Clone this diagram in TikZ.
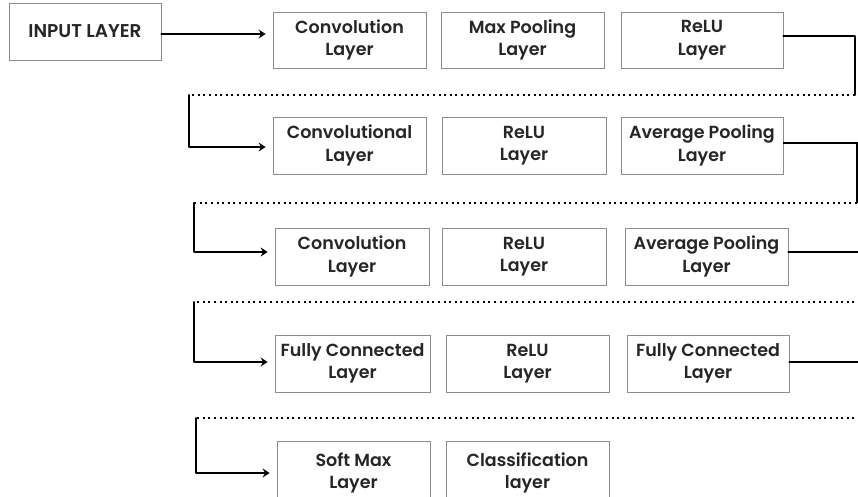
\documentclass[tikz,border=0pt]{standalone}
\usepackage{fontspec}
\setmainfont{Poppins}[BoldFont={Poppins SemiBold}]
\usetikzlibrary{arrows.meta,calc}
\begin{document}
\begin{tikzpicture}[x=1pt,y=-1pt,
  layer/.style={draw=black!45, line width=0.8pt, fill=white, rectangle, align=center,
    inner sep=0pt, font=\fontsize{17.5}{22.5}\selectfont\bfseries, text=black!85},
  conn/.style={line width=2pt, black, line cap=round, line join=round},
  thinconn/.style={line width=1.2pt, black},
  dotline/.style={line width=2pt, black, dash pattern=on 2pt off 3.6pt},
  arr/.style={conn, -{Stealth[length=7pt,width=9pt,inset=2.5pt]}, shorten >=7pt}]
\useasboundingbox (0,0) rectangle (858,497);
\clip (0,0) rectangle (858,497);
% row 0
\node[layer, minimum width=152, minimum height=57, font=\fontsize{18.5}{22}\selectfont\bfseries] (inp) at (85,31.5) {INPUT LAYER};
% row 1
\node[layer, minimum width=153, minimum height=56] (conv1) at (349.5,40) {Convolution\\Layer};
\node[layer, minimum width=163, minimum height=56] (max1) at (522.5,40) {Max Pooling\\Layer};
\node[layer, minimum width=162, minimum height=56] (relu1) at (702,40) {ReLU\\Layer};
% row 2
\node[layer, minimum width=153, minimum height=57] (conv2) at (349.5,145.5) {Convolutional\\Layer};
\node[layer, minimum width=164, minimum height=57] (relu2) at (524,145.5) {ReLU\\Layer};
\node[layer, minimum width=162, minimum height=57] (avg2) at (702,145.5) {Average Pooling\\Layer};
% row 3
\node[layer, minimum width=154, minimum height=57] (conv3) at (352,256.5) {Convolution\\Layer};
\node[layer, minimum width=164, minimum height=57] (relu3) at (524,256.5) {ReLU\\Layer};
\node[layer, minimum width=163, minimum height=57] (avg3) at (706.5,256.5) {Average Pooling\\Layer};
% row 4
\node[layer, minimum width=155, minimum height=57] (fc4) at (352.5,363.5) {Fully Connected\\Layer};
\node[layer, minimum width=163, minimum height=57] (relu4) at (527.5,363.5) {ReLU\\Layer};
\node[layer, minimum width=162, minimum height=57] (fc4b) at (708,363.5) {Fully Connected\\Layer};
% row 5
\node[layer, minimum width=153, minimum height=64] (soft5) at (353.5,473) {Soft Max\\Layer};
\node[layer, minimum width=163, minimum height=64] (class5) at (527.5,473) {\raisebox{4pt}{\begin{tabular}{@{}c@{}}Classification\\layer\end{tabular}}};
% coordinates for the wrap-around connectors
\coordinate (r1) at (855,95);  \coordinate (l1) at (189,95);
\coordinate (r2) at (857,203); \coordinate (l2) at (194,203);
\coordinate (r3) at (860,302); \coordinate (l3) at (194,302);
\coordinate (r4) at (860,418); \coordinate (l4) at (196,418);
% connectors
\draw[arr] ([yshift=-2.5pt]inp.east) -- ([yshift=-2.5pt]inp.east -| conv1.west);
\draw[conn] ([yshift=4pt]relu1.east) -| (r1);
\draw[dotline] (r1) -- (l1);
\draw[arr] (l1) |- ([yshift=-1.5pt]conv2.west);
\draw[thinconn] ([yshift=2.5pt]avg2.east) -| (r2);
\draw[dotline] (r2) -- (l2);
\draw[arr] (l2) |- ([yshift=4.5pt]conv3.west);
\draw[conn] ([yshift=4.5pt]avg3.east) -| (r3);
\draw[dotline] (r3) -- (l3);
\draw[arr] (l3) |- ([yshift=1.5pt]fc4.west);
\draw[conn] ([yshift=1.5pt]fc4b.east) -| (r4);
\draw[dotline] (r4) -- (l4);
\draw[arr] (l4) |- (soft5.west);
\end{tikzpicture}
\end{document}
